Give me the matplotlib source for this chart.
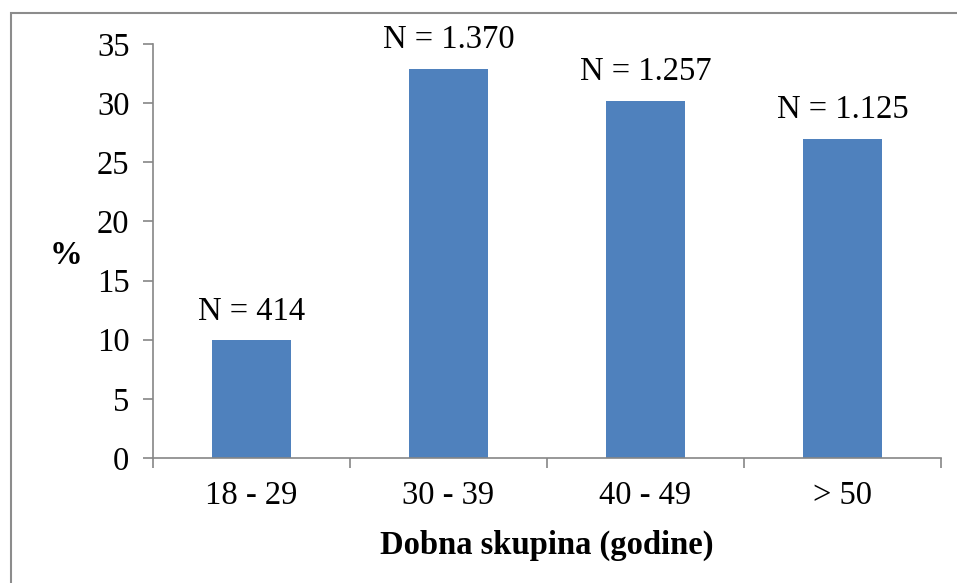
import matplotlib.pyplot as plt
from matplotlib.patches import Rectangle

plt.rcParams['font.family'] = ['Liberation Serif', 'DejaVu Serif']

categories = ['18 - 29', '30 - 39', '40 - 49', '> 50']
counts = [414, 1370, 1257, 1125]
labels = ['N = 414', 'N = 1.370', 'N = 1.257', 'N = 1.125']
total = sum(counts)
percent = [c / total * 100 for c in counts]

fig = plt.figure(figsize=(9.57, 5.83), dpi=100)
ax = fig.add_axes([0.1599, 0.2144, 0.9833 - 0.1599, 0.9245 - 0.2144])

x = list(range(len(categories)))
bars = ax.bar(x, percent, width=0.4, color='#4F81BD')

for i, p in enumerate(percent):
    ax.annotate(labels[i], (x[i], p), xytext=(0, 10), textcoords='offset points',
                ha='center', va='bottom', fontsize=23.5)

ax.set_xlim(-0.5, 3.5)
ax.set_ylim(0, 35)
ax.set_yticks(range(0, 36, 5))
ax.set_xticks(x)
ax.set_xticklabels(categories)
# category boundary ticks
ax.set_xticks([-0.5, 0.5, 1.5, 2.5, 3.5], minor=True)
ax.tick_params(axis='x', which='major', length=0, labelsize=23.5, pad=16)
ax.tick_params(axis='x', which='minor', length=7, color='#868686', width=1.2)
ax.tick_params(axis='y', length=7, color='#868686', width=1.2, labelsize=23.5, pad=10)

for s in ['top', 'right']:
    ax.spines[s].set_visible(False)
for s in ['left', 'bottom']:
    ax.spines[s].set_color('#868686')
    ax.spines[s].set_linewidth(1.2)

ax.set_xlabel('Dobna skupina (godine)', fontsize=23.5, fontweight='bold', labelpad=14)
fig.text(66 / 957, 1 - 255 / 583, '%', fontsize=23.5, fontweight='bold',
         ha='center', va='center')

# outer frame (clipped at right and bottom)
fig.patches.append(Rectangle((11 / 957, -0.05), 1.2, 1 - 13 / 583 + 0.05,
                             transform=fig.transFigure, fill=False,
                             edgecolor='#8c8c8c', linewidth=1.5))

fig.savefig('out.png', dpi=100)
